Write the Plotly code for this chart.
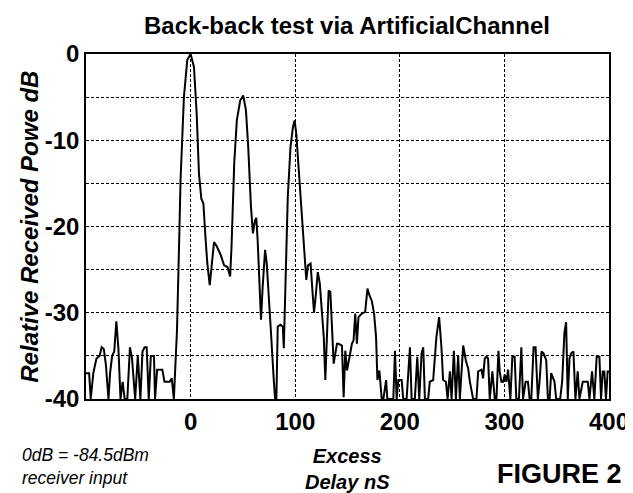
import plotly.graph_objects as go

# Excess delay (ns) and relative received power (dB)
delay_ns = [
    -100, -97, -95.5, -93, -90, -87, -85, -83, -81, -78.5, -77, -75, -73, -71, -69, -67, -65, -63, -60.5,
    -58, -56, -53, -50.5, -48, -46, -44, -42, -40, -38, -35, -34, -32, -27, -25, -20, -18, -16, -14.5,
    -13, -11, -9.6, -6.4, -3.2, 0,
    3.2, 5.8, 8, 10.3, 12.2, 14.4, 16, 18.3, 20.2, 22.4, 25, 27.2, 28.8, 32, 35.3, 37.8, 39.1, 41.7,
    44.2, 47.4, 50.3, 52.9, 55.1, 57.7, 59.6, 61.5, 62.8, 64.1, 65.7, 67.3, 68.9, 71.2, 72.8, 74.4,
    76.9, 79.5, 80.8, 82, 83.3, 85.9, 88.1, 89.1, 90.4, 92.9, 95.5, 97.8, 99.4, 101, 103.2, 105.8,
    108.3, 110.6, 112.2, 114.7, 116.5, 118, 119.5, 121.6, 123.5, 125.7, 127.3, 128.8, 130.4, 132,
    133.6, 135.2, 136.8, 138.4, 139.9, 141.5, 144.7, 146.3, 147.9, 149.5, 151, 152.6, 154.2, 155.8,
    157.4, 159, 160.5, 163.7, 166.9, 169.1, 171, 173.2, 175.4, 177.3, 178.6, 180.5, 182.7, 184.3,
    186.9, 188.1, 193.8, 195.4, 197, 198.6, 201.8, 203.3, 206.5, 209.7, 211.3, 214.4, 216.7, 218.6,
    220.8, 222.4, 224, 227.1, 228.7, 231.9, 235, 237.6, 239.8, 241.4, 244.1, 245.7, 247.9, 249.5,
    251.7, 253.6, 255.8, 257.4, 260.6, 263.1, 265.4, 267, 270.1, 273.3, 274.9, 278.1, 279.6, 281.2,
    282.8, 284.4, 286, 288.5, 290.8, 292.4, 294.3, 295.5, 297.1, 298.7, 300.3, 301.9, 303.5, 305.7,
    307.6, 309.8, 311.4, 313.9, 316.2, 317.8, 320.3, 322.5, 324.1, 325.7, 327.9, 329.8, 332, 333.6,
    335.5, 337.4, 340, 341.6, 343.2, 344.7, 347.9, 349.5, 353.3, 355.2, 357.4, 359, 360.6, 362.2,
    363.8, 366, 367.9, 370.1, 371.7, 374.9, 379.7, 381.3, 383.8, 386, 388.2, 390.8, 392.4, 394,
    395.5, 397.1, 398.7, 400,
]
power_db = [
    -37, -37, -40, -37, -35.3, -35, -34, -34.2, -36, -40, -37, -35, -34.5, -31, -34.2, -40, -38, -40, -40,
    -34, -35.3, -40, -35, -40, -34.5, -34, -34, -40, -35, -35, -40, -36.6, -36.6, -38, -38, -37.6, -40, -36.6,
    -32, -22, -14.6, -5, -0.7, 0,
    -1.5, -6.9, -13.9, -16.8, -17.3, -21.6, -24.3, -26.8, -24.3, -21.8, -22.3, -22.9, -23.3, -24.5, -24.7, -25.8, -22.4, -12.7,
    -7.7, -5.4, -4.8, -6.5, -10.8, -17.7, -20.8, -19.3, -19, -21.6, -26.2, -30.8, -27, -22.7, -24.3, -28.1,
    -32.4, -37.8, -40, -40, -31.6, -31.4, -31.6, -34.1, -28, -16.6, -10.8, -8.5, -7.7, -9.2, -13.1, -17.7,
    -22.4, -26.2, -24.5, -24.3, -27.5, -30, -28.2, -25.3, -26.6, -29.9, -32.8, -37.8, -32, -27.4,
    -27.6, -31.3, -35.9, -34.7, -33.6, -33.6, -33.8, -39.8, -34.4, -36.7, -35.9, -34.7, -33.6, -33.2,
    -30.1, -33.6, -30.5, -30.1, -29.9, -27.2, -28, -28.6, -30.1, -32.8, -37.8, -36.7, -40, -40,
    -37.8, -40, -40, -34.4, -40, -37.8, -37.8, -40, -40, -34, -40, -40, -35.1, -40,
    -34.7, -34, -40, -40, -38, -37.8, -32.8, -30.5, -34, -37.8, -38, -40, -36.8, -40,
    -34.4, -40, -34.9, -40, -33.8, -35.5, -36.5, -38, -40, -40, -36.8, -36.6, -37.6, -35.3,
    -35.1, -35.3, -40, -36.8, -40, -40, -34.4, -36.8, -38, -38, -37.2, -38, -36.6, -40,
    -35.1, -35.1, -40, -40, -34, -40, -38, -38, -40, -40, -34, -34, -40, -38,
    -34.5, -34.7, -35.5, -40, -40, -37, -38, -40, -40, -38, -32.3, -31.1, -40, -35.3,
    -34.7, -34.5, -40, -36.8, -40, -38, -38, -40, -36.8, -40, -35.1, -35.1, -40, -36.8,
    -36.8, -40, -36.8, -36.8,
]

x_tick_vals = [0, 100, 200, 300, 400]
x_tick_text = ["0", "100", "200", "300", "400"]
y_tick_vals = [-40, -35, -30, -25, -20, -15, -10, -5, 0]
y_tick_text = ["-40", "", "-30", "", "-20", "", "-10", "", "0"]

FONT = "Liberation Sans, Arial, Helvetica, sans-serif"

# plot box in pixels: left 78, right 603, top 46, bottom 391
L, R, T, B = 78, 603, 46, 391
W, H = R - L, B - T


def px(x):
    return (x - L) / W


def py(y):
    return (B - y) / H


fig = go.Figure()
fig.add_trace(go.Scatter(
    x=delay_ns, y=power_db, mode="lines",
    line=dict(color="black", width=2),
    showlegend=False, hoverinfo="skip",
))

axis_common = dict(
    showline=True, linecolor="black", linewidth=1.5, mirror=True,
    showgrid=True, gridcolor="black", griddash="3px,2px", gridwidth=1.3,
    zeroline=False, ticks="",
    tickfont=dict(family=FONT, size=24, color="black", weight="bold"),
)

fig.update_layout(
    width=633, height=493,
    margin=dict(l=L, r=633 - R, t=T, b=493 - B),
    paper_bgcolor="white", plot_bgcolor="white",
    xaxis=dict(range=[-100, 400], tickvals=x_tick_vals, ticktext=x_tick_text, **axis_common),
    yaxis=dict(range=[-40, 0], tickvals=y_tick_vals, ticktext=y_tick_text, **axis_common),
    font=dict(family=FONT, color="black"),
)

# Title
fig.add_annotation(text="<b>Back-back test via ArtificialChannel</b>", xref="paper", yref="paper",
                   x=px(340), y=py(18), xanchor="center", yanchor="middle", showarrow=False,
                   font=dict(family=FONT, size=24, color="black"))
# Y axis title
fig.add_annotation(text="<b><i>Relative Received Powe dB</i></b>", xref="paper", yref="paper",
                   x=px(21), y=0.5, xanchor="center", yanchor="middle", textangle=-90, showarrow=False,
                   font=dict(family=FONT, size=24, color="black"))
# X axis title
fig.add_annotation(text="<b><i>Excess<br>Delay nS</i></b>", xref="paper", yref="paper",
                   x=px(340), y=py(461), xanchor="center", yanchor="middle",
                   showarrow=False, align="center",
                   font=dict(family=FONT, size=20, color="black"))
# Reference note
fig.add_annotation(text="<i>0dB = -84.5dBm<br>receiver input</i>", xref="paper", yref="paper",
                   x=px(12), y=py(459), xanchor="left", yanchor="middle",
                   showarrow=False, align="left",
                   font=dict(family=FONT, size=17.5, color="black"))
# Figure label
fig.add_annotation(text="<b>FIGURE 2</b>", xref="paper", yref="paper",
                   x=px(553), y=py(466), xanchor="center", yanchor="middle",
                   showarrow=False,
                   font=dict(family=FONT, size=27, color="black"))

fig.write_html("out.html")
